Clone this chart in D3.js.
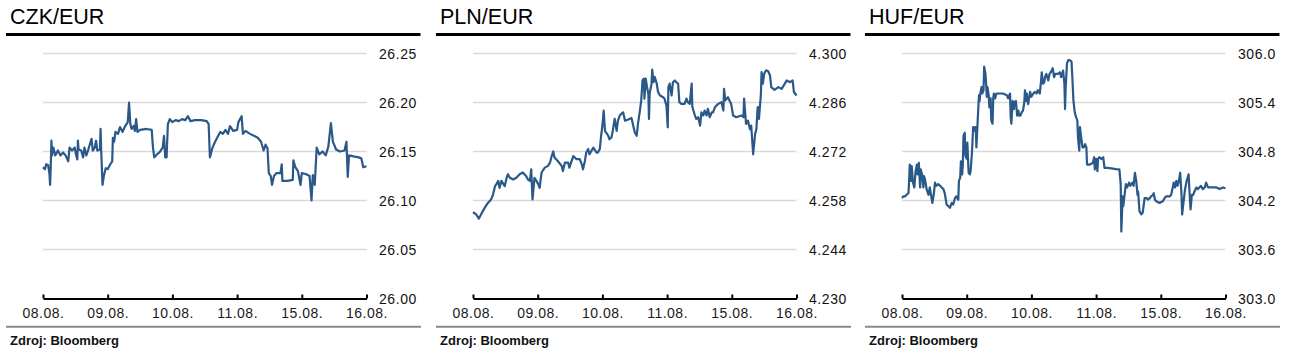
<!DOCTYPE html>
<html><head><meta charset="utf-8">
<script src="https://cdn.jsdelivr.net/npm/d3@7"></script>
<style>
body{margin:0;background:#fff}
svg{display:block}
text{font-family:"Liberation Sans",Arial,sans-serif}
</style>
</head><body>
<svg id="c" width="1289" height="360"></svg>
<script>
// ---- data ----
const dateLabels = ["08.08.","09.08.","10.08.","11.08.","15.08.","16.08."];
const titles = ["CZK/EUR","PLN/EUR","HUF/EUR"];
const sourceLabel = "Zdroj: Bloomberg";

const czkTicks = [26.00,26.05,26.10,26.15,26.20,26.25];
const plnTicks = [4.230,4.244,4.258,4.272,4.286,4.300];
const hufTicks = [303.0,303.6,304.2,304.8,305.4,306.0];

// [position in trading days from 08.08., rate]
const czkPoints = [[0.00,26.134],[0.03,26.132],[0.05,26.137],[0.08,26.136],[0.10,26.127],[0.11,26.116],[0.12,26.135],[0.13,26.161],[0.14,26.146],[0.16,26.154],[0.19,26.146],[0.23,26.151],[0.27,26.146],[0.31,26.149],[0.35,26.146],[0.39,26.140],[0.41,26.154],[0.45,26.151],[0.49,26.154],[0.51,26.147],[0.53,26.142],[0.54,26.161],[0.55,26.152],[0.59,26.151],[0.62,26.144],[0.64,26.154],[0.67,26.146],[0.70,26.152],[0.75,26.163],[0.77,26.151],[0.80,26.154],[0.82,26.161],[0.84,26.151],[0.88,26.152],[0.89,26.173],[0.90,26.150],[0.92,26.116],[0.94,26.125],[0.97,26.133],[1.00,26.132],[1.04,26.137],[1.07,26.140],[1.08,26.164],[1.10,26.160],[1.12,26.170],[1.16,26.168],[1.19,26.175],[1.23,26.170],[1.27,26.176],[1.31,26.180],[1.33,26.200],[1.35,26.178],[1.37,26.173],[1.40,26.176],[1.42,26.171],[1.44,26.183],[1.46,26.170],[1.50,26.172],[1.60,26.173],[1.68,26.172],[1.70,26.154],[1.72,26.144],[1.76,26.147],[1.80,26.149],[1.85,26.154],[1.87,26.166],[1.89,26.144],[1.91,26.144],[1.93,26.178],[1.96,26.183],[2.00,26.180],[2.05,26.182],[2.10,26.181],[2.15,26.183],[2.20,26.182],[2.24,26.186],[2.28,26.181],[2.35,26.182],[2.45,26.182],[2.53,26.181],[2.56,26.178],[2.58,26.144],[2.62,26.154],[2.66,26.160],[2.70,26.165],[2.74,26.170],[2.78,26.168],[2.82,26.172],[2.86,26.168],[2.89,26.176],[2.94,26.171],[3.00,26.172],[3.02,26.180],[3.07,26.186],[3.09,26.168],[3.13,26.171],[3.20,26.168],[3.26,26.166],[3.32,26.164],[3.37,26.160],[3.41,26.151],[3.44,26.157],[3.47,26.153],[3.49,26.128],[3.52,26.125],[3.54,26.116],[3.57,26.125],[3.61,26.128],[3.67,26.128],[3.69,26.137],[3.70,26.120],[3.78,26.120],[3.86,26.121],[3.87,26.141],[3.90,26.134],[3.94,26.130],[3.98,26.116],[4.00,26.128],[4.06,26.127],[4.12,26.125],[4.15,26.100],[4.17,26.126],[4.20,26.116],[4.23,26.154],[4.27,26.147],[4.32,26.150],[4.37,26.146],[4.41,26.155],[4.45,26.179],[4.48,26.160],[4.53,26.152],[4.59,26.150],[4.66,26.151],[4.69,26.160],[4.71,26.124],[4.73,26.146],[4.80,26.145],[4.88,26.144],[4.92,26.143],[4.95,26.134],[5.00,26.135]];

const plnPoints = [[0,4.2547],[0.05,4.2540],[0.09,4.2528],[0.13,4.2542],[0.18,4.2559],[0.23,4.2573],[0.28,4.2583],[0.31,4.2597],[0.34,4.2621],[0.36,4.2626],[0.39,4.2636],[0.41,4.2616],[0.44,4.2636],[0.49,4.2621],[0.52,4.2645],[0.54,4.2655],[0.57,4.2645],[0.62,4.2640],[0.67,4.2645],[0.72,4.2655],[0.77,4.2660],[0.82,4.2650],[0.85,4.2640],[0.88,4.2636],[0.90,4.2669],[0.92,4.2583],[0.95,4.2645],[0.98,4.2636],[1.01,4.2626],[1.03,4.2616],[1.06,4.2660],[1.11,4.2674],[1.16,4.2679],[1.19,4.2688],[1.21,4.2703],[1.24,4.2720],[1.26,4.2703],[1.31,4.2693],[1.37,4.2679],[1.39,4.2664],[1.42,4.2688],[1.47,4.2688],[1.49,4.2674],[1.55,4.2707],[1.60,4.2698],[1.65,4.2698],[1.68,4.2684],[1.70,4.2669],[1.73,4.2693],[1.75,4.2717],[1.78,4.2727],[1.80,4.2712],[1.86,4.2731],[1.91,4.2717],[1.93,4.2717],[1.96,4.2727],[1.98,4.2765],[2.00,4.2794],[2.02,4.2837],[2.04,4.2779],[2.09,4.2765],[2.11,4.2755],[2.14,4.2760],[2.16,4.2779],[2.19,4.2813],[2.22,4.2779],[2.24,4.2808],[2.27,4.2823],[2.29,4.2827],[2.32,4.2832],[2.35,4.2808],[2.42,4.2813],[2.45,4.2816],[2.47,4.2799],[2.50,4.2775],[2.53,4.2765],[2.55,4.2799],[2.58,4.2837],[2.60,4.2866],[2.62,4.2923],[2.64,4.2928],[2.65,4.2871],[2.67,4.2928],[2.69,4.2904],[2.71,4.2885],[2.72,4.2813],[2.73,4.2885],[2.76,4.2914],[2.77,4.2954],[2.79,4.2918],[2.81,4.2933],[2.84,4.2914],[2.86,4.2890],[2.89,4.2880],[2.94,4.2875],[2.96,4.2871],[2.99,4.2851],[3.01,4.2789],[3.02,4.2904],[3.04,4.2914],[3.07,4.2880],[3.09,4.2918],[3.12,4.2923],[3.14,4.2918],[3.17,4.2914],[3.19,4.2861],[3.22,4.2856],[3.27,4.2856],[3.30,4.2871],[3.32,4.2861],[3.35,4.2856],[3.38,4.2914],[3.39,4.2847],[3.43,4.2823],[3.45,4.2813],[3.48,4.2818],[3.51,4.2794],[3.53,4.2832],[3.56,4.2823],[3.58,4.2837],[3.61,4.2823],[3.63,4.2842],[3.66,4.2818],[3.69,4.2832],[3.71,4.2832],[3.74,4.2847],[3.79,4.2856],[3.84,4.2861],[3.87,4.2837],[3.88,4.2899],[3.90,4.2866],[3.94,4.2875],[3.99,4.2856],[4.02,4.2823],[4.07,4.2818],[4.15,4.2823],[4.18,4.2818],[4.19,4.2871],[4.22,4.2799],[4.25,4.2808],[4.28,4.2784],[4.30,4.2794],[4.33,4.2712],[4.36,4.2770],[4.38,4.2784],[4.40,4.2847],[4.42,4.2813],[4.45,4.2885],[4.46,4.2947],[4.48,4.2914],[4.50,4.2942],[4.53,4.2952],[4.56,4.2950],[4.59,4.2938],[4.61,4.2904],[4.66,4.2896],[4.72,4.2904],[4.77,4.2899],[4.82,4.2914],[4.85,4.2923],[4.90,4.2918],[4.94,4.2923],[4.96,4.2890],[5.00,4.2880]];

const hufPoints = [[0,304.23],[0.02,304.25],[0.05,304.25],[0.07,304.27],[0.10,304.29],[0.11,304.44],[0.12,304.64],[0.14,304.44],[0.15,304.62],[0.17,304.42],[0.19,304.36],[0.21,304.56],[0.23,304.64],[0.24,304.52],[0.26,304.66],[0.28,304.36],[0.29,304.58],[0.31,304.52],[0.33,304.36],[0.34,304.50],[0.36,304.44],[0.38,304.34],[0.41,304.27],[0.43,304.36],[0.46,304.21],[0.47,304.17],[0.49,304.27],[0.51,304.42],[0.53,304.38],[0.56,304.40],[0.59,304.38],[0.61,304.36],[0.64,304.34],[0.66,304.29],[0.69,304.15],[0.72,304.13],[0.74,304.11],[0.77,304.17],[0.79,304.15],[0.82,304.23],[0.84,304.25],[0.87,304.21],[0.88,304.44],[0.90,304.48],[0.91,304.68],[0.93,304.52],[0.94,304.64],[0.95,304.99],[0.97,305.03],[0.98,304.75],[1.00,304.71],[1.01,304.91],[1.03,304.54],[1.05,304.52],[1.06,304.56],[1.08,304.77],[1.10,305.10],[1.11,305.10],[1.13,305.05],[1.14,305.10],[1.15,304.85],[1.17,305.18],[1.18,305.34],[1.19,305.49],[1.20,305.42],[1.21,305.51],[1.23,305.59],[1.24,305.51],[1.26,305.55],[1.27,305.84],[1.29,305.75],[1.30,305.63],[1.31,305.47],[1.32,305.59],[1.34,305.49],[1.35,305.34],[1.37,305.45],[1.38,305.18],[1.40,305.14],[1.41,305.45],[1.42,305.51],[1.44,305.45],[1.46,305.51],[1.51,305.51],[1.56,305.51],[1.62,305.49],[1.64,305.45],[1.67,305.51],[1.68,305.22],[1.69,305.14],[1.71,305.42],[1.73,305.32],[1.74,305.40],[1.76,305.42],[1.78,305.24],[1.80,305.30],[1.81,305.24],[1.83,305.24],[1.85,305.28],[1.87,305.30],[1.89,305.40],[1.90,305.55],[1.92,305.42],[1.93,305.51],[1.95,305.38],[1.98,305.53],[2.00,305.47],[2.03,305.51],[2.05,305.53],[2.08,305.51],[2.10,305.55],[2.13,305.51],[2.15,305.67],[2.16,305.77],[2.18,305.63],[2.20,305.65],[2.21,305.71],[2.23,305.75],[2.26,305.67],[2.28,305.75],[2.30,305.77],[2.33,305.82],[2.35,305.71],[2.37,305.75],[2.41,305.75],[2.44,305.77],[2.46,305.71],[2.49,305.79],[2.51,305.63],[2.52,305.32],[2.53,305.59],[2.55,305.88],[2.57,305.92],[2.59,305.92],[2.62,305.90],[2.63,305.75],[2.65,305.42],[2.67,305.28],[2.69,305.22],[2.71,305.18],[2.72,304.97],[2.74,304.81],[2.75,305.10],[2.77,304.97],[2.79,304.85],[2.81,304.85],[2.83,304.89],[2.85,304.85],[2.86,304.64],[2.90,304.64],[2.95,304.66],[2.97,304.73],[2.98,304.58],[3.00,304.71],[3.02,304.56],[3.03,304.71],[3.05,304.73],[3.08,304.71],[3.11,304.73],[3.13,304.60],[3.18,304.60],[3.26,304.59],[3.34,304.58],[3.36,304.58],[3.38,304.40],[3.39,303.82],[3.41,304.25],[3.42,304.13],[3.44,304.27],[3.46,304.40],[3.48,304.36],[3.51,304.42],[3.53,304.38],[3.56,304.42],[3.58,304.38],[3.60,304.54],[3.62,304.44],[3.64,304.27],[3.65,304.31],[3.67,304.07],[3.70,304.03],[3.72,304.05],[3.75,304.23],[3.78,304.23],[3.80,304.21],[3.83,304.23],[3.85,304.25],[3.88,304.27],[3.89,304.29],[3.91,304.21],[3.93,304.19],[3.98,304.17],[4.03,304.19],[4.06,304.23],[4.08,304.25],[4.14,304.25],[4.16,304.27],[4.19,304.38],[4.20,304.42],[4.22,304.36],[4.24,304.44],[4.26,304.38],[4.28,304.44],[4.30,304.54],[4.32,304.27],[4.33,304.03],[4.35,304.17],[4.37,304.31],[4.38,304.36],[4.40,304.44],[4.43,304.52],[4.44,304.36],[4.46,304.09],[4.48,304.27],[4.50,304.27],[4.52,304.31],[4.55,304.36],[4.57,304.34],[4.60,304.36],[4.62,304.38],[4.65,304.34],[4.68,304.36],[4.70,304.42],[4.73,304.36],[4.75,304.36],[4.80,304.36],[4.86,304.36],[4.91,304.34],[4.96,304.36],[5.00,304.35]];

// ---- drawing ----
const panels = [
  {title: titles[0], data: czkPoints, ticks: czkTicks, fmt: d3.format(".2f"), x0: 0},
  {title: titles[1], data: plnPoints, ticks: plnTicks, fmt: d3.format(".3f"), x0: 430},
  {title: titles[2], data: hufPoints, ticks: hufTicks, fmt: d3.format(".1f"), x0: 859}
];

const svg = d3.select("#c");
const lineColor = "#2a5889";

panels.forEach(p => {
  const g = svg.append("g").attr("transform", `translate(${p.x0},0)`);
  const x = d3.scaleLinear().domain([0, dateLabels.length - 1]).range([43, 366.5]);
  const y = d3.scaleLinear().domain([p.ticks[0], p.ticks[p.ticks.length - 1]]).range([298.5, 53.5]);

  g.append("text").attr("x", 10).attr("y", 24)
    .attr("font-size", 21.5).attr("fill", "#000").text(p.title);
  g.append("line").attr("x1", 6).attr("x2", 420.5).attr("y1", 34.6).attr("y2", 34.6)
    .attr("stroke", "#000").attr("stroke-width", 3);

  // gridlines
  g.selectAll("line.grid").data(p.ticks.slice(1)).join("line")
    .attr("class", "grid")
    .attr("x1", x.range()[0]).attr("x2", x.range()[1])
    .attr("y1", d => y(d)).attr("y2", d => y(d))
    .attr("stroke", "#d9d9d9").attr("stroke-width", 1.6);

  // y labels on right
  g.selectAll("text.yl").data(p.ticks).join("text")
    .attr("class", "yl")
    .attr("x", 417).attr("y", d => y(d)).attr("dy", "0.36em")
    .attr("text-anchor", "end").attr("font-size", 14).attr("fill", "#111")
    .attr("letter-spacing", 0.6)
    .text(d => p.fmt(d));

  // x axis
  const ax = d3.axisBottom(x)
    .tickValues(d3.range(dateLabels.length))
    .tickFormat(i => dateLabels[i])
    .tickSizeInner(-4).tickSizeOuter(0).tickPadding(9.5);
  const axg = g.append("g").attr("transform", "translate(0,298.5)").call(ax);
  axg.select(".domain").attr("stroke", "#000").attr("stroke-width", 2);
  axg.selectAll(".tick line").attr("stroke", "#000").attr("stroke-width", 2);
  axg.selectAll(".tick text").attr("font-size", 14).attr("fill", "#1a1a1a")
    .attr("letter-spacing", 0.5)
    .attr("font-family", '"Liberation Sans",Arial,sans-serif');

  // series line
  const line = d3.line().x(d => x(d[0])).y(d => y(d[1]));
  g.append("path").datum(p.data).attr("d", line)
    .attr("fill", "none").attr("stroke", lineColor).attr("stroke-width", 2.2)
    .attr("stroke-linejoin", "round");

  // bottom rule and source
  g.append("line").attr("x1", 6).attr("x2", 421).attr("y1", 326.7).attr("y2", 326.7)
    .attr("stroke", "#8a8a8a").attr("stroke-width", 2);
  g.append("text").attr("x", 10).attr("y", 345.3)
    .attr("font-size", 13).attr("font-weight", "bold").attr("fill", "#111").text(sourceLabel);
});
</script>
</body></html>
